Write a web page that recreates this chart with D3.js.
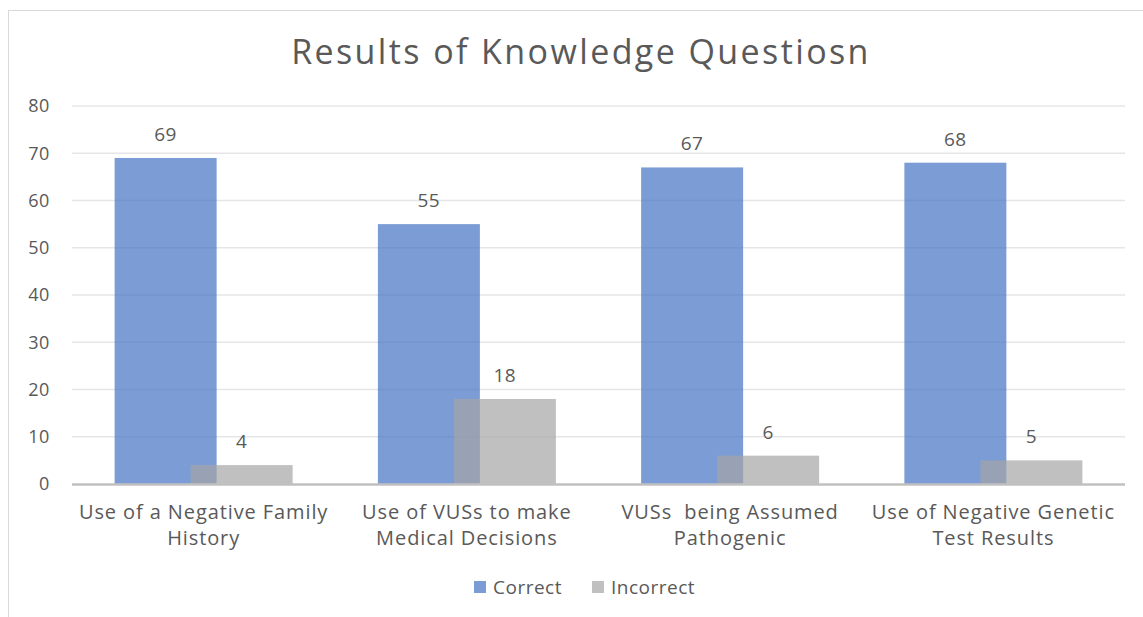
<!DOCTYPE html>
<head>
  <title>Results of Knowledge Questiosn</title>
  <style>
    body { margin: 0; background: #fff; }
    text { font-family: "Open Sans", sans-serif; fill: #595959; }
  </style>
</head>
<body>
  <script src="https://cdn.jsdelivr.net/npm/d3@7/dist/d3.min.js"></script>
  <script>
    // data
    const categories = [
      ["Use of a Negative Family", "History"],
      ["Use of VUSs to make", "Medical Decisions"],
      ["VUSs  being Assumed", "Pathogenic"],
      ["Use of Negative Genetic", "Test Results"]
    ];
    const correct = [69, 55, 67, 68];
    const incorrect = [4, 18, 6, 5];
    const seriesNames = ["Correct", "Incorrect"];
    const yTicks = [0, 10, 20, 30, 40, 50, 60, 70, 80];

    const colors = ["#4472C4", "#A5A5A5"];

    const W = 1143, H = 617;
    const plot = {left: 72, right: 1125, top: 106, bottom: 484};

    const svg = d3.select("body").append("svg")
      .attr("width", W).attr("height", H);

    // outer frame
    svg.append("rect")
      .attr("x", 8.5).attr("y", 10.5)
      .attr("width", 1150).attr("height", 620)
      .attr("fill", "none").attr("stroke", "#d9d9d9");

    const x = d3.scaleBand()
      .domain(d3.range(categories.length))
      .range([plot.left, plot.right]);
    const y = d3.scaleLinear().domain([0, 80]).range([plot.bottom, plot.top]);

    // gridlines
    svg.append("g").selectAll("line")
      .data(yTicks.slice(1))
      .enter().append("line")
      .attr("x1", plot.left).attr("x2", plot.right)
      .attr("y1", d => y(d)).attr("y2", d => y(d))
      .attr("stroke", "#e6e6e6").attr("stroke-width", 1.3);

    // y tick labels
    const yAxis = d3.axisLeft(y).tickValues(yTicks).tickSize(0).tickPadding(22);
    svg.append("g")
      .attr("transform", "translate(" + plot.left + ",0)")
      .call(yAxis)
      .call(g => g.select(".domain").remove())
      .selectAll("text")
      .attr("font-size", "18px").style("font-family", "'Open Sans', sans-serif")
      .style("letter-spacing", "0.6px")
      .attr("fill", "#595959");

    // bars: overlapping pair in each category
    const barW = 102, overlap = 26;
    const series = [correct, incorrect];
    series.forEach(function(vals, s) {
      const offset = s === 0 ? -(barW - overlap / 2) : -overlap / 2;
      const g = svg.append("g");
      g.selectAll("rect")
        .data(vals)
        .enter().append("rect")
        .attr("x", (d, i) => x(i) + x.bandwidth() / 2 + offset)
        .attr("y", d => y(d))
        .attr("width", barW)
        .attr("height", d => y(0) - y(d))
        .attr("fill", colors[s])
        .attr("fill-opacity", 0.7);
      g.selectAll("text")
        .data(vals)
        .enter().append("text")
        .attr("x", (d, i) => x(i) + x.bandwidth() / 2 + offset + barW / 2)
        .attr("y", d => y(d) - 17)
        .attr("text-anchor", "middle")
        .attr("font-size", "19px")
        .style("letter-spacing", "0.6px")
        .text(d => d);
    });

    // baseline
    svg.append("line")
      .attr("x1", plot.left).attr("x2", plot.right)
      .attr("y1", y(0) + 0.5).attr("y2", y(0) + 0.5)
      .attr("stroke", "#c0c0c0").attr("stroke-width", 2.5);

    // category labels
    const cat = svg.append("g").selectAll("text")
      .data(categories)
      .enter().append("text")
      .attr("text-anchor", "middle")
      .attr("font-size", "20px")
      .style("letter-spacing", "0.9px")
      .style("white-space", "pre")
      .attr("x", (d, i) => x(i) + x.bandwidth() / 2)
      .attr("y", 519);
    cat.selectAll("tspan")
      .data(d => d)
      .enter().append("tspan")
      .attr("x", function() { return this.parentNode.getAttribute("x"); })
      .attr("dy", (d, j) => j === 0 ? 0 : 26)
      .text(d => d);

    // title
    svg.append("text")
      .attr("x", 581).attr("y", 64)
      .attr("text-anchor", "middle")
      .attr("font-size", "34px")
      .style("letter-spacing", "2.4px")
      .text("Results of Knowledge Questiosn");

    // legend
    const legendX = [474, 592];
    const leg = svg.append("g").selectAll("g")
      .data(seriesNames)
      .enter().append("g")
      .attr("transform", (d, i) => "translate(" + legendX[i] + ",581)");
    leg.append("rect")
      .attr("width", 12).attr("height", 12)
      .attr("fill", (d, i) => colors[i]).attr("fill-opacity", 0.7);
    leg.append("text")
      .attr("x", 19).attr("y", 13)
      .attr("font-size", "19px")
      .style("letter-spacing", "0.5px")
      .text(d => d);
  </script>
</body>
